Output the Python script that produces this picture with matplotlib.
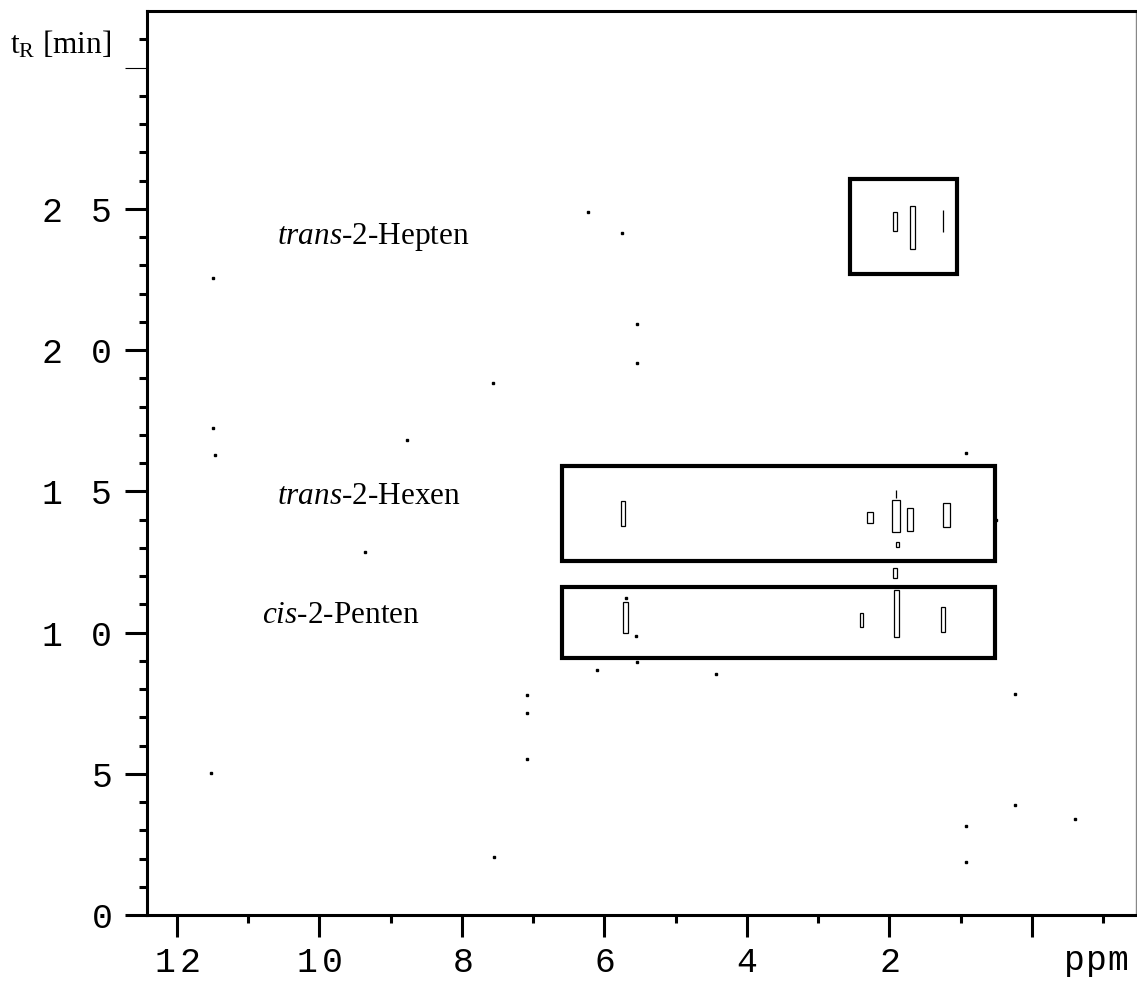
import matplotlib
matplotlib.use("Agg")
import matplotlib.pyplot as plt
from matplotlib.patches import Rectangle
from matplotlib.ticker import FixedLocator

plt.rcParams["mathtext.fontset"] = "custom"
plt.rcParams["mathtext.rm"] = "Liberation Serif"
plt.rcParams["mathtext.it"] = "Liberation Serif:italic"

# marked regions around each compound (ppm range, retention time range)
box_ppm_lo = [1.05, 0.52, 0.52]
box_ppm_hi = [2.55, 6.60, 6.60]
box_tr_lo = [22.70, 12.54, 9.10]
box_tr_hi = [26.06, 15.90, 11.61]

label_text = [r"$\mathit{trans}$-2-Hepten", r"$\mathit{trans}$-2-Hexen",
              r"$\mathit{cis}$-2-Penten"]
label_ppm = [10.60, 10.60, 10.81]
label_tr = [24.0, 14.8, 10.6]

# cross peaks: centre (ppm, min) and extent
peak_ppm = [1.92, 1.68, 1.25,
            5.74, 2.27, 1.91, 1.91, 1.71, 1.20, 1.89, 1.92,
            5.70, 2.39, 1.90, 1.25]
peak_tr = [24.54, 24.33, 24.57,
           14.20, 14.06, 14.13, 14.91, 14.00, 14.17, 13.10, 12.10,
           10.53, 10.45, 10.68, 10.45]
peak_dppm = [0.06, 0.07, 0.0,
             0.06, 0.08, 0.11, 0.0, 0.08, 0.10, 0.04, 0.05,
             0.07, 0.05, 0.07, 0.05]
peak_dtr = [0.67, 1.52, 0.78,
            0.89, 0.39, 1.13, 0.28, 0.81, 0.85, 0.18, 0.35,
            1.10, 0.50, 1.66, 0.88]

# isolated noise specks
noise_ppm = [11.49, 11.49, 11.47, 11.52, 6.23, 5.75, 5.54, 5.54, 7.56, 8.77,
             9.36, 0.93, 0.24, 7.09, 7.09, 7.09, 7.55, 6.11, 5.54, 4.44,
             0.24, 0.93, 0.93, -0.60, 5.70, 5.56, 0.50]
noise_tr = [22.56, 17.25, 16.29, 5.03, 24.89, 24.15, 20.93, 19.55, 18.84, 16.82,
            12.85, 16.36, 7.83, 7.79, 7.15, 5.52, 2.05, 8.68, 8.96, 8.53,
            3.90, 3.15, 1.88, 3.40, 11.23, 9.88, 13.99]

x_major = [12, 10, 8, 6, 4, 2, 0]
x_labels = ["12", "10", "8", "6", "4", "2", ""]
x_minor = [11, 9, 7, 5, 3, 1, -1]
y_major = [0, 5, 10, 15, 20, 25, 30]
y_labels = ["0", "5", "10", "15", "20", "25", ""]


def spaced(s, gap=0.2):
    # wide letter spacing as in the original plot software
    if not s:
        return s
    return r"$\hspace{0}$" + (r"$\hspace{%g}$" % gap).join(s)


fig = plt.figure(figsize=(11.37, 9.81), dpi=100)
ax = fig.add_axes([147 / 1137, 66 / 981, 989 / 1137, 904 / 981])
ax.set_xlim(12.42, -1.46)
ax.set_ylim(0, 32.0)

for lo, hi, b, t in zip(box_ppm_lo, box_ppm_hi, box_tr_lo, box_tr_hi):
    ax.add_patch(Rectangle((lo, b), hi - lo, t - b, fill=False,
                           edgecolor="black", linewidth=3.0))

for x, y, w, h in zip(peak_ppm, peak_tr, peak_dppm, peak_dtr):
    ax.add_patch(Rectangle((x - w / 2, y - h / 2), w, h, fill=False,
                           edgecolor="black", linewidth=0.9))

ax.plot(noise_ppm, noise_tr, ls="none", marker="s", ms=1.6, color="black")

for s, x, y in zip(label_text, label_ppm, label_tr):
    ax.text(x, y, s, fontsize=22.5, family="Liberation Serif",
            ha="left", va="center")

mono = {"family": "Liberation Mono", "size": 25}
ax.xaxis.set_major_locator(FixedLocator(x_major))
ax.xaxis.set_minor_locator(FixedLocator(x_minor))
ax.set_xticklabels([spaced(s) for s in x_labels], fontdict=mono)
ax.yaxis.set_major_locator(FixedLocator(y_major))
ax.yaxis.set_minor_locator(FixedLocator([v for v in range(32) if v % 5]))
ax.set_yticklabels([spaced(s, 1.15) for s in y_labels], fontdict=mono)

ax.tick_params(which="major", direction="out", length=16, width=2.2, pad=6)
ax.tick_params(axis="y", which="major", pad=9.5)
ax.tick_params(which="minor", direction="out", length=6, width=2.2)
t30 = ax.yaxis.get_major_ticks()[-1]
t30.tick1line.set_markeredgewidth(0.8)
t30.tick1line.set_color("#555555")

for side in ["left", "bottom", "top"]:
    ax.spines[side].set_linewidth(2.2)
ax.spines["right"].set_linewidth(1.0)
ax.spines["right"].set_color("#888888")

ax.annotate(spaced("ppm", 0.05), xy=(-0.9, 0),
            xycoords=("data", "axes fraction"), xytext=(0, -22),
            textcoords="offset points", ha="center", va="top",
            family="Liberation Mono", fontsize=25)

fig.text(10 / 1137, 1 - 45 / 981, r"t$_\mathrm{R}$ [min]", fontsize=22.5,
         family="Liberation Serif", ha="left", va="center")

fig.savefig("out.png", dpi=100)
